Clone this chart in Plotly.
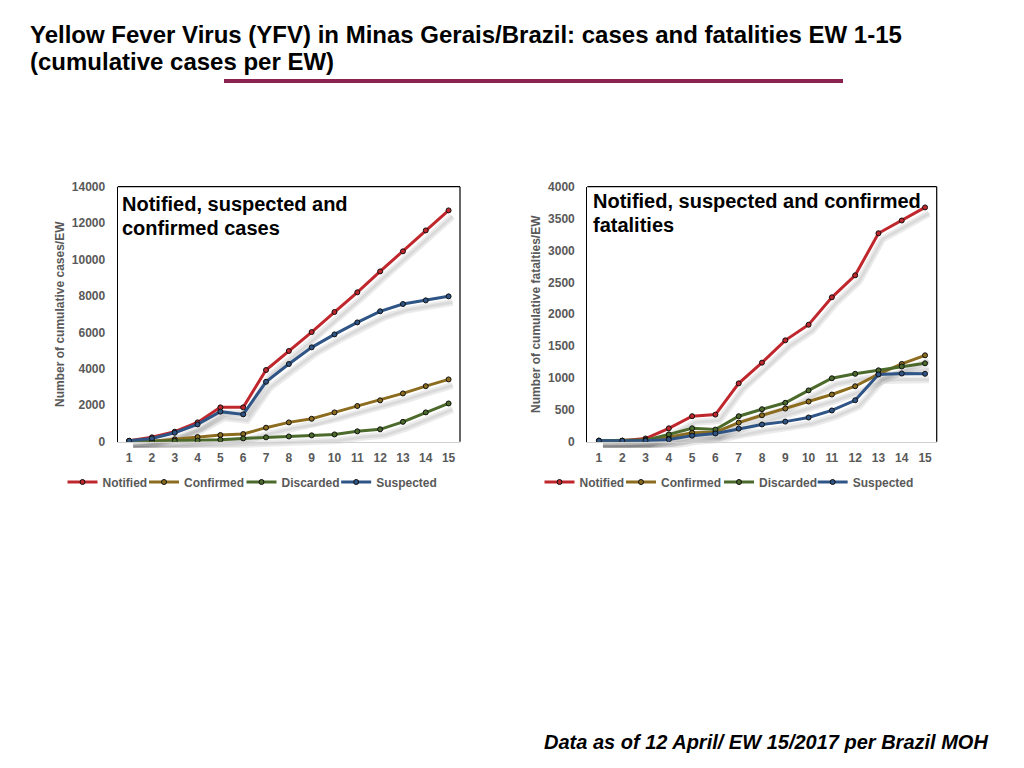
import plotly.graph_objects as go

weeks = list(range(1, 16))
week_labels = [str(w) for w in weeks]

series_names = ["Notified", "Confirmed", "Discarded", "Suspected"]
series_colors = ["#C0272D", "#8C6D1F", "#4B6A2B", "#2F5486"]

cases_notified = [50, 240, 550, 1060, 1885, 1885, 3935, 4980, 6020, 7120, 8200, 9350, 10450, 11600, 12700]
cases_confirmed = [0, 30, 130, 255, 365, 420, 770, 1060, 1260, 1610, 1960, 2270, 2650, 3050, 3420]
cases_discarded = [0, 20, 50, 60, 110, 180, 240, 290, 350, 400, 570, 680, 1090, 1610, 2100]
cases_suspected = [50, 180, 490, 950, 1650, 1500, 3290, 4265, 5180, 5890, 6550, 7160, 7560, 7760, 7980]

fat_notified = [15, 15, 50, 210, 400, 425, 915, 1240, 1590, 1835, 2265, 2610, 3270, 3470, 3675]
fat_confirmed = [15, 15, 25, 70, 140, 150, 300, 415, 520, 630, 740, 870, 1060, 1220, 1355]
fat_discarded = [15, 15, 25, 115, 210, 190, 400, 510, 610, 805, 995, 1065, 1120, 1180, 1230]
fat_suspected = [15, 15, 15, 35, 95, 130, 205, 270, 315, 380, 490, 650, 1055, 1070, 1065]

cases_ticks = [0, 2000, 4000, 6000, 8000, 10000, 12000, 14000]
fat_ticks = [0, 500, 1000, 1500, 2000, 2500, 3000, 3500, 4000]

cases_series = [cases_notified, cases_confirmed, cases_discarded, cases_suspected]
fat_series = [fat_notified, fat_confirmed, fat_discarded, fat_suspected]

W, H = 1024, 768
FONT = "Liberation Sans, Arial, sans-serif"
GRAY = "#595959"

def px_x(v):
    return v / W

def px_y(v):
    return 1 - v / H

# plot areas in pixels (left, right, top, bottom)
left_box = (117.7, 460.0, 186.7, 441.7)
right_box = (587.3, 936.7, 186.7, 441.7)
SDX, SDY = 4, 6  # shadow offset in px

# legend item centres (px) and approximate label widths (px)
left_legend_centres = [113, 202, 298.5, 394.5]
right_legend_centres = [590, 679, 776, 871]
label_widths = [45, 60, 58, 60.7]
LEGEND_Y = 482

fig = go.Figure()

left_legend_ids = ["legend", "legend3", "legend4", "legend5"]
right_legend_ids = ["legend2", "legend6", "legend7", "legend8"]

def add_set(series, xa, ya, legends, shadow):
    for i, (name, color, vals) in enumerate(zip(series_names, series_colors, series)):
        if shadow:
            fig.add_trace(go.Scatter(
                x=week_labels, y=vals, xaxis=xa, yaxis=ya, mode="lines",
                line=dict(color="rgba(0,0,0,0.08)", width=7),
                showlegend=False, hoverinfo="skip"))
            fig.add_trace(go.Scatter(
                x=week_labels, y=vals, xaxis=xa, yaxis=ya, mode="lines",
                line=dict(color="rgba(0,0,0,0.07)", width=3),
                showlegend=False, hoverinfo="skip"))
        else:
            fig.add_trace(go.Scatter(
                x=week_labels, y=vals, xaxis=xa, yaxis=ya, name=name,
                mode="lines+markers", legend=legends[i], showlegend=True,
                line=dict(color=color, width=3),
                marker=dict(color=color, size=5, line=dict(color="#111111", width=1))))

# shadows first (drawn below)
add_set(cases_series, "x", "y", None, True)
add_set(fat_series, "x2", "y2", None, True)
add_set(cases_series, "x3", "y3", left_legend_ids, False)
add_set(fat_series, "x4", "y4", right_legend_ids, False)

tickfont = dict(family=FONT, size=12, color=GRAY, weight="bold")

def xaxis(box, dx=0, visible=True, anchor="y"):
    l, r, t, b = box
    d = dict(domain=[px_x(l + dx), px_x(r + dx)], anchor=anchor,
             type="category", range=[-0.5, 14.5], fixedrange=True, automargin=False)
    if visible:
        d.update(showline=True, linecolor="#D0D0D0", linewidth=1, ticks="",
                 showgrid=False, zeroline=False, tickfont=tickfont, ticklabelstandoff=5,
                 mirror=False)
    else:
        d.update(visible=False)
    return d

def yaxis(box, rng, ticks, dy=0, visible=True, anchor="x", title=None):
    l, r, t, b = box
    d = dict(domain=[px_y(b + dy), px_y(t + dy)], anchor=anchor, range=rng, fixedrange=True,
             automargin=False)
    if visible:
        d.update(showline=True, linecolor="black", linewidth=1.2, mirror=False,
                 showgrid=False, zeroline=False, ticks="", tickvals=ticks, tickformat="d",
                 tickfont=tickfont, ticklabelstandoff=9,
                 title=dict(text=title, font=dict(family=FONT, size=12, color=GRAY, weight="bold"),
                            standoff=4))
    else:
        d.update(visible=False)
    return d

legend_font = dict(family=FONT, size=12, color=GRAY, weight="bold")

layout = dict(
    width=W, height=H,
    margin=dict(l=0, r=0, t=0, b=0, pad=0, autoexpand=False),
    paper_bgcolor="white", plot_bgcolor="rgba(0,0,0,0)",
    showlegend=True,
    xaxis=xaxis(left_box, SDX, False, "y"),
    yaxis=yaxis(left_box, [0, 14000], cases_ticks, SDY, False, "x"),
    xaxis2=xaxis(right_box, SDX, False, "y2"),
    yaxis2=yaxis(right_box, [0, 4000], fat_ticks, SDY, False, "x2"),
    xaxis3=xaxis(left_box, 0, True, "y3"),
    yaxis3=yaxis(left_box, [0, 14000], cases_ticks, 0, True, "x3", "Number of cumulative cases/EW"),
    xaxis4=xaxis(right_box, 0, True, "y4"),
    yaxis4=yaxis(right_box, [0, 4000], fat_ticks, 0, True, "x4", "Number of cumulative fatalties/EW"),
)

for ids, centres in ((left_legend_ids, left_legend_centres), (right_legend_ids, right_legend_centres)):
    for lid, c, tw in zip(ids, centres, label_widths):
        layout[lid] = dict(orientation="h", x=px_x(c - (34 + tw) / 2 - 11), xanchor="left",
                           y=px_y(LEGEND_Y), yanchor="middle", font=legend_font,
                           itemwidth=30, bgcolor="rgba(0,0,0,0)")

fig.update_layout(**layout)

# right and top borders of plot boxes
for (l, r, t, b) in (left_box, right_box):
    fig.add_shape(type="line", xref="paper", yref="paper", x0=px_x(r), x1=px_x(r),
                  y0=px_y(b), y1=px_y(t), line=dict(color="black", width=1.2))
    fig.add_shape(type="line", xref="paper", yref="paper", x0=px_x(l), x1=px_x(r),
                  y0=px_y(t), y1=px_y(t), line=dict(color="black", width=1.2))

# maroon rule under title
fig.add_shape(type="line", xref="paper", yref="paper", x0=px_x(224), x1=px_x(843),
              y0=px_y(81), y1=px_y(81), line=dict(color="#8B2252", width=4))

def text(x, y, s, size, anchor="left", italic=False, color="black"):
    fig.add_annotation(xref="paper", yref="paper", x=px_x(x), y=px_y(y), xanchor=anchor,
                       yanchor="middle", align=anchor, showarrow=False, text=s,
                       font=dict(family=FONT, size=size, color=color, weight="bold",
                                 style="italic" if italic else "normal"))

text(28, 34, "Yellow Fever Virus (YFV) in Minas Gerais/Brazil: cases and fatalities EW 1-15", 24)
text(28, 61, "(cumulative cases per EW)", 24)

text(120, 204, "Notified, suspected and", 20)
text(120, 228, "confirmed cases", 20)
text(591, 201, "Notified, suspected and confirmed", 20)
text(591, 225, "fatalities", 20)

text(990, 742, "Data as of 12 April/ EW 15/2017 per Brazil MOH", 20, anchor="right", italic=True)

post = (
    "document.documentElement.style.overflow='hidden';"
    "document.body.style.margin='0';"
    "document.body.style.overflow='hidden';"
)

fig.write_html("out.html", config={"displayModeBar": False}, post_script=post)
